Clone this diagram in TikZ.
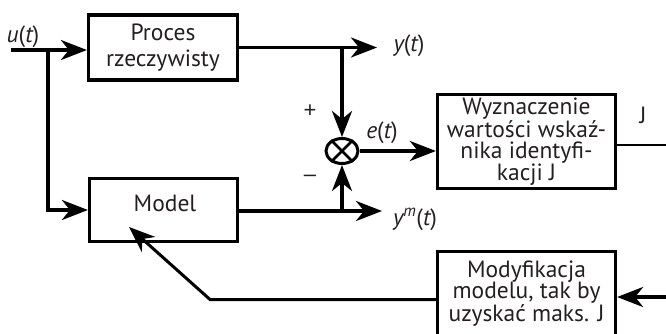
\documentclass[tikz,border=0pt]{standalone}
\usepackage{fontspec}
\setmainfont{PT Sans}
\newfontfamily\signfont{Liberation Sans}
\usetikzlibrary{arrows.meta,shapes.geometric}
\definecolor{ink}{RGB}{35,31,32}
\begin{document}
\begin{tikzpicture}[x=1pt,y=-1pt,
  block/.style={draw=black,line width=3.2pt,align=center,text=ink,
    font=\fontsize{23.5}{21.7}\selectfont,inner sep=0pt},
  wire/.style={line width=3.5pt},
  sig/.style={wire,-{Stealth[length=26pt,width=20pt,inset=8pt]}},
  lbl/.style={text=ink,font=\fontsize{23.5}{24}\selectfont,inner sep=0pt},
  sign/.style={text=ink,font=\signfont\fontsize{22}{22}\selectfont,inner sep=0pt}
]
\useasboundingbox (0,0) rectangle (666,333);

% blocks
\node[block,minimum width=149pt,minimum height=65pt,
      font=\fontsize{23.5}{26}\selectfont] (proc) at (163,47.5) {Proces\\rzeczywisty};
\node[block,minimum width=148pt,minimum height=63pt] (model) at (163.5,210) {};
\node[lbl] (modeltxt) at (165,203) {Model};
\node[block,minimum width=178pt,minimum height=94pt] (wyz) at (526.5,141.5)
  {Wyznaczenie\\wartości wskaź-\\nika identyfi-\\kacji J};
\node[block,minimum width=178pt,minimum height=100pt,anchor=north] (mod) at (526.5,250) {};
\node[block,draw=none,anchor=north] (modtxt) at (526.5,259)
  {Modyfikacja\\modelu, tak by\\uzyskać maks. J};

% summing junction
\node[draw,ellipse,line width=3pt,minimum width=32pt,minimum height=25pt,inner sep=0pt]
  (sum) at (342,151) {};
\draw[line width=2.5pt] (sum.45) -- (sum.225) (sum.135) -- (sum.315);

% branch points and free ends
\coordinate (uin) at (11,50);
\coordinate (ubr) at (48,50);
\coordinate (ybr) at (342,47.5);
\coordinate (yend) at (377,47.5);
\coordinate (ymbr) at (342,211);
\coordinate (ymend) at (382,211);
\coordinate (jend) at (666,145);
\coordinate (modin) at (666,297);
\coordinate (fbk) at (210,299.5);
\coordinate (mtip) at (129,227);

% connectors
\draw[sig] (uin) -- (uin -| proc.west);
\draw[sig] (ubr) |- (model.west);
\draw[sig] (proc.east) -- (yend);
\draw[sig] (ybr) -- (sum.north);
\draw[sig] (ymbr -| model.east) -- (ymend);
\draw[sig] (ymbr) -- (sum.south);
\draw[sig] (sum.east) -- (sum.east -| wyz.west);
\draw[line width=2.6pt] (jend -| wyz.east) -- (jend);
\draw[sig] (modin) -- (modin -| mod.east);
\draw[sig,line width=3pt] (fbk -| mod.west) -- (fbk) -- (mtip);

% labels
\node[lbl] (lu) at (23,37) {\itshape u\upshape(\itshape t\upshape)};
\node[lbl] (ly) at (409,46) {\itshape y\upshape(\itshape t\upshape)};
\node[lbl] (le) at (382,133) {\itshape e\upshape(\itshape t\upshape)};
\node[lbl] (lym) at (415,219) {\itshape y\textsuperscript{m}\upshape(\itshape t\upshape)};
\node[lbl] (lj) at (643,115) {J};
\node[sign] (lplus) at (310,111) {+};
\node[sign] (lminus) at (310,178) {–};
\end{tikzpicture}
\end{document}
